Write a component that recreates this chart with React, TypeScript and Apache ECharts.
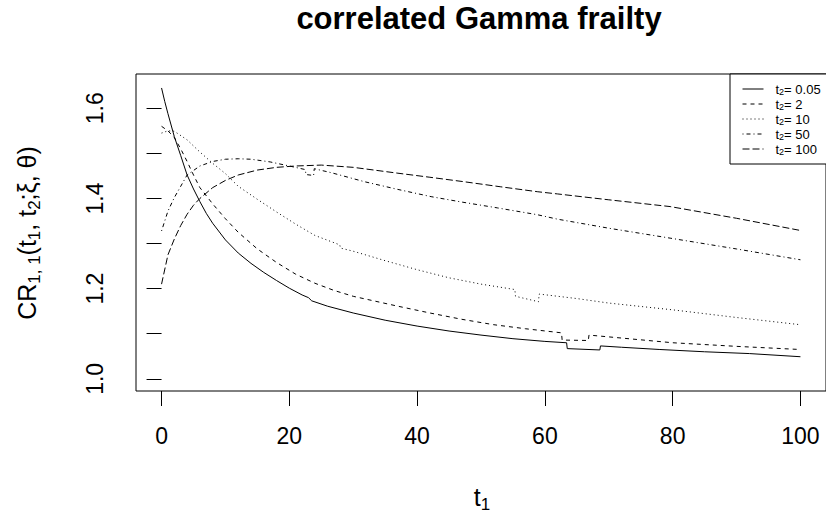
import React, { useEffect, useRef } from "react";
import * as echarts from "echarts";

// t1 grid points and CR values, one pair of arrays per curve
const T_005 = [0, 0.5, 1, 2, 3, 4, 5, 6, 7, 8, 10, 12, 14, 16, 18, 20, 22, 23, 23.5, 26, 30, 35, 40, 45, 50, 55, 60, 63.4, 63.5, 68.6, 68.7, 72, 78, 85, 92, 100];
const V_005 = [1.645, 1.615, 1.588, 1.537, 1.495, 1.452, 1.421, 1.393, 1.367, 1.345, 1.308, 1.279, 1.256, 1.236, 1.218, 1.201, 1.186, 1.180, 1.173, 1.161, 1.146, 1.130, 1.117, 1.106, 1.097, 1.089, 1.083, 1.080, 1.067, 1.064, 1.073, 1.070, 1.065, 1.060, 1.056, 1.049];

const T_2 = [0, 1, 2, 3, 4, 5, 6, 8, 10, 12, 15, 18, 21, 24, 27, 30, 37, 42, 47, 52, 57, 62.6, 62.7, 66.8, 66.9, 70, 80, 90, 100];
const V_2 = [1.56, 1.55, 1.535, 1.51, 1.482, 1.452, 1.424, 1.388, 1.355, 1.325, 1.288, 1.258, 1.232, 1.212, 1.196, 1.183, 1.161, 1.146, 1.132, 1.120, 1.111, 1.102, 1.086, 1.085, 1.097, 1.093, 1.080, 1.072, 1.065];

const T_10 = [0, 1, 2, 4, 6, 8, 10, 12, 15, 18, 21, 24, 27.9, 28, 30, 35, 40, 45, 50, 55.3, 55.4, 59, 59.1, 65, 70, 80, 90, 100];
const V_10 = [1.545, 1.55, 1.549, 1.53, 1.503, 1.478, 1.455, 1.427, 1.398, 1.37, 1.343, 1.318, 1.297, 1.290, 1.283, 1.262, 1.242, 1.224, 1.21, 1.198, 1.183, 1.171, 1.188, 1.178, 1.168, 1.153, 1.136, 1.12];

const T_50 = [0, 1, 2, 3, 4, 6, 8, 10, 12, 14, 17, 20, 22.5, 22.6, 23.8, 23.9, 26.6, 31.8, 37, 42.2, 47, 52.6, 58.8, 62, 70, 79.6, 90, 100];
const V_50 = [1.328, 1.372, 1.402, 1.427, 1.452, 1.472, 1.482, 1.487, 1.488, 1.487, 1.481, 1.472, 1.464, 1.453, 1.451, 1.466, 1.457, 1.437, 1.42, 1.404, 1.392, 1.379, 1.364, 1.354, 1.334, 1.312, 1.288, 1.264];

const T_100 = [0, 1, 2, 3, 4, 5, 6, 8, 10, 12, 15, 18, 21, 25, 30, 37, 42, 47.4, 53, 58.8, 62, 70, 79.6, 90, 100];
const V_100 = [1.21, 1.275, 1.31, 1.34, 1.365, 1.385, 1.40, 1.424, 1.44, 1.452, 1.463, 1.469, 1.472, 1.474, 1.469, 1.456, 1.447, 1.437, 1.426, 1.415, 1.41, 1.397, 1.382, 1.356, 1.329];

const SERIES_NAMES = ["0.05", "2", "10", "50", "100"];
const X_TICKS = [0, 20, 40, 60, 80, 100];
const Y_TICKS = [1.0, 1.1, 1.2, 1.3, 1.4, 1.5, 1.6];
const Y_LABELS = [1.0, 1.2, 1.4, 1.6];

const FONT = "'Liberation Sans', Arial, sans-serif";

export default function App() {
  const ref = useRef<HTMLDivElement>(null);
  useEffect(() => {
    document.body.style.margin = "0";
    const chart = echarts.init(ref.current!, null, { renderer: "svg" });
    const sets = [
      [T_005, V_005, "solid"],
      [T_2, V_2, [4, 4]],
      [T_10, V_10, [1, 3]],
      [T_50, V_50, [1, 3, 4, 3]],
      [T_100, V_100, [7, 3]],
    ] as any[];
    const series = sets.map((s, i) => ({
      name: SERIES_NAMES[i],
      type: "line",
      symbol: "none",
      showSymbol: false,
      clip: true,
      lineStyle: { color: "#000", width: 1, type: s[2] },
      itemStyle: { color: "#000" },
      data: (s[0] as number[]).map((t, j) => [t, (s[1] as number[])[j]]),
    }));
    chart.setOption({
      animation: false,
      backgroundColor: "#fff",
      textStyle: { fontFamily: FONT },
      grid: { left: 136, top: 74, width: 696, height: 317, show: true, borderColor: "#000", borderWidth: 1, backgroundColor: "transparent", containLabel: false },
      xAxis: {
        type: "value",
        min: -4,
        max: 104,
        axisLine: { show: false },
        splitLine: { show: false },
        axisTick: { show: true, length: 15, inside: false, lineStyle: { color: "#000" }, customValues: X_TICKS },
        axisLabel: { customValues: X_TICKS, margin: 33, fontSize: 23, color: "#000", fontFamily: FONT, formatter: (v: number) => String(v) },
      },
      yAxis: {
        type: "value",
        min: 0.973,
        max: 1.676,
        axisLine: { show: false },
        splitLine: { show: false },
        axisTick: { show: true, length: 15, inside: false, lineStyle: { color: "#000" }, customValues: Y_TICKS },
        axisLabel: { customValues: Y_LABELS, rotate: 90, margin: 30, fontSize: 23, color: "#000", fontFamily: FONT, formatter: (v: number) => v.toFixed(1) },
      },
      legend: {
        orient: "vertical",
        left: 730,
        top: 74,
        itemWidth: 21,
        itemHeight: 12,
        itemGap: 1,
        padding: [8, 60, 8, 12],
        borderColor: "#000",
        borderWidth: 1,
        backgroundColor: "#fff",
        selectedMode: false,
        data: SERIES_NAMES,
        itemStyle: { opacity: 0, color: "transparent", borderWidth: 0 },
        lineStyle: { color: "#000", width: 1 },
        formatter: (name: string) => `{m|t}{s|2}{m|= ${name}}`,
        textStyle: {
          color: "#000",
          fontFamily: FONT,
          padding: [0, 0, 0, 7],
          lineHeight: 14,
          rich: {
            m: { fontSize: 13, lineHeight: 14, verticalAlign: "middle", fontFamily: FONT, color: "#000" },
            s: { fontSize: 9, lineHeight: 8, verticalAlign: "bottom", fontFamily: FONT, color: "#000" },
          },
        },
      },
      graphic: [
        {
          type: "text",
          x: 479,
          y: 18,
          style: { text: "correlated Gamma frailty", font: `bold 31px ${FONT}`, fill: "#000", align: "center", verticalAlign: "middle" },
        },
        {
          type: "text",
          x: 482,
          y: 497,
          style: {
            text: "{m|t}{s|1}",
            align: "center",
            verticalAlign: "middle",
            rich: {
              m: { fontSize: 25, lineHeight: 32, verticalAlign: "middle", fontFamily: FONT, fill: "#000" },
              s: { fontSize: 17, lineHeight: 17, verticalAlign: "bottom", fontFamily: FONT, fill: "#000" },
            },
          },
        },
        {
          type: "text",
          x: 27,
          y: 233,
          rotation: Math.PI / 2,
          style: {
            text: "{m|CR}{s|1, 1}{m|(t}{s|1}{m|, t}{s|2}{m|;ξ, θ)}",
            align: "center",
            verticalAlign: "middle",
            rich: {
              m: { fontSize: 25, lineHeight: 32, verticalAlign: "middle", fontFamily: FONT, fill: "#000" },
              s: { fontSize: 17, lineHeight: 17, verticalAlign: "bottom", fontFamily: FONT, fill: "#000" },
            },
          },
        },
      ],
      series,
    });
    return () => chart.dispose();
  }, []);
  return <div ref={ref} style={{ width: 826, height: 516 }} />;
}
